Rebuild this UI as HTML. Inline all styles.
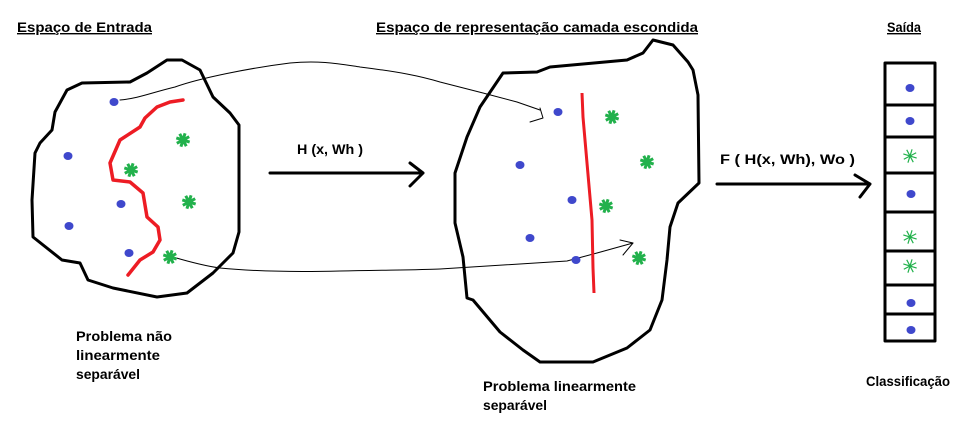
<!DOCTYPE html>
<html><head><meta charset="utf-8"><style>
body{margin:0;background:#fff;width:960px;height:429px;overflow:hidden}
svg{display:block}
text{font-family:"Liberation Sans",sans-serif;font-weight:bold;font-size:14px;fill:#000}
</style></head><body>
<svg width="960" height="429" viewBox="0 0 960 429">
<g fill="none" stroke="#000" stroke-linejoin="round" stroke-linecap="round">
<path stroke-width="3" d="M167,60 L182,60 200,70 213,97 230,113 239,125 239,232 233,253 213,273 187,293 157,297 113,288 88,280 80,263 62,260 33,237 32,200 35,153 40,143 52,130 55,112 67,90 82,83 130,82 147,73 Z"/>
<path stroke-width="3" d="M653,40 L673,45 688,62 693,70 698,95 699,183 678,203 670,227 667,260 662,300 650,330 627,348 593,362 540,362 523,350 500,332 473,300 467,298 463,257 455,223 455,173 467,137 480,107 503,73 537,72 550,67 627,60 643,53 Z"/>
<path stroke-width="1" d="M120,100 C140,98 150,93 175,87 C200,78 250,68 290,63 C320,60 340,64 360,67 C400,72 420,76 440,82 L483,93 517,102 540,110"/>
<path stroke-width="1" d="M540,108 L543,118 530,122"/>
<path stroke-width="1" d="M173,257 C190,262 205,266 220,268 C260,272 300,272 340,271 C380,270 420,270 440,269 L567,261 597,253 633,243"/>
<path stroke-width="1" d="M620,240 L633,243 623,255"/>
<path stroke-width="3" d="M270,173 L423,173 M410,163 L423,173 410,186"/>
<path stroke-width="3" d="M717,184 L870,184 M855,175 L870,184 860,197"/>
<rect x="885" y="63" width="50" height="278" stroke-width="3"/>
<path stroke-width="3" d="M885,105H935M885,137H935M885,173H935M885,212H935M885,251H935M885,285H935M885,314H935"/>
</g>
<path fill="none" stroke="#ed1c24" stroke-width="3.5" stroke-linecap="round" stroke-linejoin="round" d="M183,100 L170,102 157,107 145,118 140,127 120,140 110,163 113,180 130,182 143,193 147,217 158,227 160,240 153,252 140,260 128,275"/>
<path fill="none" stroke="#ed1c24" stroke-width="3" d="M582,93 L583,117 587,163 592,220 593,268 594,293"/>
<g id="marks"></g>
<text x="17" y="32" textLength="135" lengthAdjust="spacingAndGlyphs" text-decoration="underline">Espaço de Entrada</text>
<text x="376" y="32" textLength="322" lengthAdjust="spacingAndGlyphs" text-decoration="underline">Espaço de representação camada escondida</text>
<text x="887" y="32" textLength="34" lengthAdjust="spacingAndGlyphs" text-decoration="underline">Saída</text>
<text x="297" y="154" textLength="66" lengthAdjust="spacingAndGlyphs">H (x, Wh )</text>
<text x="720" y="164" textLength="135" lengthAdjust="spacingAndGlyphs">F ( H(x, Wh), Wo )</text>
<text x="76" y="341" textLength="96" lengthAdjust="spacingAndGlyphs">Problema não</text>
<text x="76" y="360" textLength="84" lengthAdjust="spacingAndGlyphs">linearmente</text>
<text x="76" y="379" textLength="64" lengthAdjust="spacingAndGlyphs">separável</text>
<text x="483" y="391" textLength="153" lengthAdjust="spacingAndGlyphs">Problema linearmente</text>
<text x="483" y="410" textLength="64" lengthAdjust="spacingAndGlyphs">separável</text>
<text x="866" y="386" textLength="84" lengthAdjust="spacingAndGlyphs">Classificação</text>
</svg>
<script>
const blueX=[114,68,121,69,129,558,520,572,530,576,910,910,911,911,911];
const blueY=[102,156,204,226,253,112,165,200,238,260,88,121,194,303,330];
const greenX=[183,131,189,170,612,647,606,639,910,910,910];
const greenY=[140,170,202,257,117,162,206,258,156,237,266];
const ns='http://www.w3.org/2000/svg';
const g=document.getElementById('marks');
blueX.forEach((x,i)=>{
  const c=document.createElementNS(ns,'ellipse');
  c.setAttribute('cx',x);c.setAttribute('cy',blueY[i]);
  c.setAttribute('rx',4.5);c.setAttribute('ry',4);
  c.setAttribute('fill','#3f48cc');
  
  
  g.appendChild(c);
});
greenX.forEach((x,i)=>{
  const y=greenY[i];
  const p=document.createElementNS(ns,'path');
  const r=x>880?7:7;
  let d='';
  for(let k=0;k<4;k++){const a=k*Math.PI/4+0.3;d+=`M${x-r*Math.cos(a)},${y-r*Math.sin(a)}L${x+r*Math.cos(a)},${y+r*Math.sin(a)}`;}
  p.setAttribute('d',d);
  p.setAttribute('stroke','#22b14c');
  p.setAttribute('stroke-width',x>880?1.2:3);
  p.setAttribute('fill','none');
  
  
  g.appendChild(p);
});
</script>
</body></html>
